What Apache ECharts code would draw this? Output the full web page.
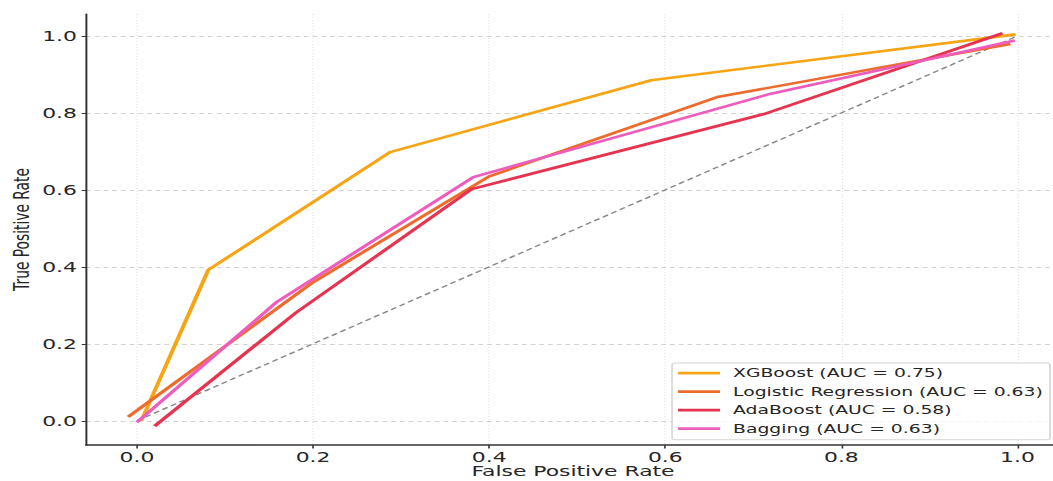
<!DOCTYPE html>
<html><head><meta charset="utf-8">
<script src="https://cdn.jsdelivr.net/npm/echarts@6/dist/echarts.min.js"></script>
<style>
html,body{margin:0;padding:0;background:#fff;overflow:hidden;width:1053px;height:481px}
#chart{width:680px;height:481px;transform:scaleX(1.585);transform-origin:0 0;}
</style></head><body><div id="chart"></div>
<script>
const seriesNames = ['XGBoost (AUC = 0.75)', 'Logistic Regression (AUC = 0.63)', 'AdaBoost (AUC = 0.58)', 'Bagging (AUC = 0.63)'];
const xgbX = [0.005, 0.081, 0.2875, 0.584, 0.998];
const xgbY = [0.0, 0.392, 0.698, 0.885, 1.004];
const lrX = [-0.01, 0.2, 0.40, 0.659, 0.992];
const lrY = [0.01, 0.36, 0.635, 0.841, 0.979];
const adaX = [0.02, 0.18, 0.38, 0.712, 0.983];
const adaY = [-0.014, 0.28, 0.602, 0.797, 1.007];
const bagX = [0.0, 0.159, 0.382, 0.72, 0.997];
const bagY = [-0.004, 0.309, 0.633, 0.85, 0.988];
const diagX = [0, 1];
const diagY = [0, 1];
const tickValues = [0, 0.2, 0.4, 0.6, 0.8, 1.0];
const colors = ['#f7a514', '#ec6b2d', '#e63350', '#ee5cbd'];

const zip = (xs, ys) => xs.map((x, i) => [x, ys[i]]);
const FONT = 'DejaVu Sans';
const textCol = '#262626';

function axisCommon(min, max, gridType, gridWidth, lineWidth, tickLen, name, nameGap, labelMargin) {
  return {
    type: 'value', min: min, max: max,
    name: name, nameLocation: 'middle', nameGap: nameGap, nameMoveOverlap: false,
    nameTextStyle: {fontFamily: FONT, fontSize: 13.8, color: textCol},
    axisLine: {show: true, onZero: false, lineStyle: {color: '#333', width: lineWidth}},
    axisTick: {show: true, customValues: tickValues, length: tickLen, lineStyle: {color: '#333', width: 1}},
    axisLabel: {customValues: tickValues, formatter: v => v.toFixed(1), margin: labelMargin,
      fontFamily: FONT, fontSize: 13.8, color: textCol},
    splitLine: {show: true, lineStyle: {type: gridType, color: '#d2d2d2', width: gridWidth}}
  };
}
const xAxis = axisCommon(-0.0579, 1.0483, [1, 2], 0.6, 1.5, 3.5, 'False Positive Rate', 19, 5);
const yAxis = axisCommon(-0.063, 1.057, [3, 2.5], 0.8, 1.25, 2.7, 'True Positive Rate', 34, 5.7);

const dataX = [xgbX, lrX, adaX, bagX];
const dataY = [xgbY, lrY, adaY, bagY];
const series = [{
  type: 'line', data: zip(diagX, diagY), showSymbol: false, symbol: 'none', silent: true,
  lineStyle: {color: '#888', width: 1.3, type: [4, 2.5]}, z: 1
}];
seriesNames.forEach((n, i) => {
  series.push({
    name: n, type: 'line', data: zip(dataX[i], dataY[i]), showSymbol: false, symbol: 'none',
    color: colors[i], lineStyle: {color: colors[i], width: 2.6}, z: 2 + i
  });
});

const chart = echarts.init(document.getElementById('chart'), null, {renderer: 'svg'});
chart.setOption({
  animation: false,
  backgroundColor: '#fff',
  grid: {left: 54.26, right: 11.23, top: 14, bottom: 36, containLabel: false, outerBoundsMode: 'none'},
  xAxis: xAxis,
  yAxis: yAxis,
  legend: {
    orient: 'vertical', left: 424, top: 363, padding: [4.1, 4.8, 5.1, 3.8], itemGap: 6.5,
    itemWidth: 26.5, itemHeight: 2.6, icon: 'rect',
    backgroundColor: 'rgba(255,255,255,0.8)', borderColor: '#d5d5d5', borderWidth: 1, borderRadius: 2,
    textStyle: {fontFamily: FONT, fontSize: 11.84, color: textCol, padding: [0, 0, 0, 3.2]},
    data: seriesNames
  },
  series: series
});
</script></body></html>
